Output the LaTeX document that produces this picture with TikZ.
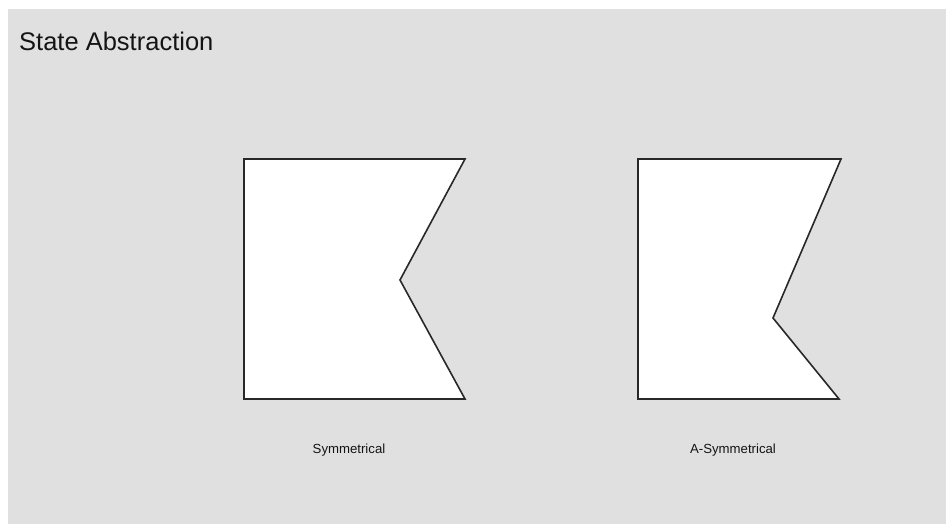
\documentclass[tikz,border=0pt]{standalone}
\usepackage{fontspec}
\setmainfont{Liberation Sans}
\usetikzlibrary{positioning}
\definecolor{panelbg}{RGB}{224, 224, 224}
\definecolor{edgecolor}{RGB}{40, 40, 40}
\definecolor{textcolor}{RGB}{20, 20, 20}
\tikzset{
  flag/.style={
    draw=edgecolor, line width=1.6pt, fill=white, line join=miter
  },
  titletext/.style={
    font=\fontsize{25.5}{30}\selectfont, text=textcolor, inner sep=0pt
  },
  caption/.style={
    font=\fontsize{13.2}{16}\selectfont, text=textcolor, inner sep=0pt
  }
}

\begin{document}
\begin{tikzpicture}[x=1pt, y=-1pt]

  % ── Canvas ─────────────────────────────────────────────────────
  \useasboundingbox (0,0) rectangle (946,524);
  \fill[panelbg] (8,9) rectangle (946,524);

  % ── Title ──────────────────────────────────────────────────────
  \node[titletext, anchor=base west] (title) at (19,51) {State Abstraction};

  % ── Symmetrical flag ───────────────────────────────────────────
  \coordinate (s-nw)    at (244,159);
  \coordinate (s-ne)    at (465,159);
  \coordinate (s-notch) at (400,280);
  \coordinate (s-se)    at (465,399);
  \coordinate (s-sw)    at (244,399);
  \draw[flag] (s-nw) -- (s-ne) -- (s-notch) -- (s-se) -- (s-sw) -- cycle;
  \node[caption, anchor=base] (symlabel) at (349,453) {Symmetrical};

  % ── A-symmetrical flag ─────────────────────────────────────────
  \coordinate (a-nw)    at (638,159);
  \coordinate (a-ne)    at (841,159);
  \coordinate (a-notch) at (773,318);
  \coordinate (a-se)    at (839,399);
  \coordinate (a-sw)    at (638,399);
  \draw[flag] (a-nw) -- (a-ne) -- (a-notch) -- (a-se) -- (a-sw) -- cycle;
  \node[caption, anchor=base] (asymlabel) at (733,453) {A-Symmetrical};

\end{tikzpicture}
\end{document}
